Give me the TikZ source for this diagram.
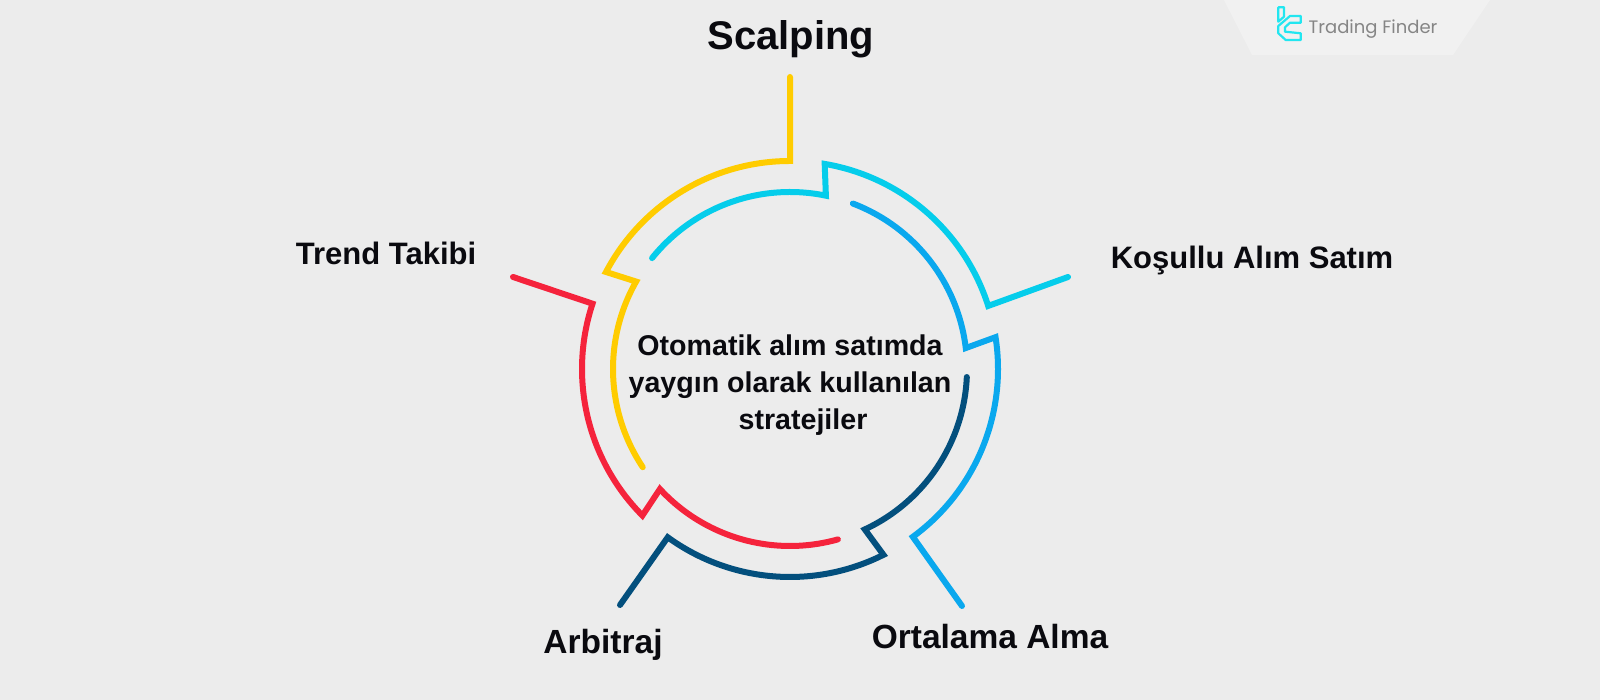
\documentclass[tikz,border=0pt]{standalone}
\usepackage{fontspec}
\setmainfont{Liberation Sans}
\newfontfamily\logofont{Poppins}
\definecolor{bgc}{HTML}{ECECEC}
\definecolor{patchc}{HTML}{F1F1F1}
\definecolor{cyellow}{HTML}{FFCC00}
\definecolor{ccyan}{HTML}{05CDEB}
\definecolor{cblue}{HTML}{0AA8EE}
\definecolor{cnavy}{HTML}{034F7D}
\definecolor{cred}{HTML}{F5233C}
\definecolor{clogo}{HTML}{22E6F0}
\definecolor{ctext}{HTML}{0A0A0F}
\definecolor{clogotext}{HTML}{858585}
\tikzset{
  x=1pt,y=1pt,
  ring/.style={line width=6pt,line cap=round,line join=miter,miter limit=6},
  lab/.style={font=\bfseries\fontsize{31}{31}\selectfont,text=ctext,inner sep=0pt,anchor=center},
  bigLab/.style={lab,font=\bfseries\fontsize{33.5}{33.5}\selectfont},
}
% #1 colour, #2 free end, #3 outer start angle, #4 outer end angle, #5 inner start angle, #6 inner end angle
\newcommand{\ringseg}[6]{%
  \draw[ring,#1] #2 -- ([shift={(#3:208)}]ctr) arc[start angle=#3,end angle=#4,radius=208]
    -- ([shift={(#5:177)}]ctr) arc[start angle=#5,end angle=#6,radius=177];}
\begin{document}
\begin{tikzpicture}
\useasboundingbox (0,0) rectangle (1600,700);
\fill[bgc] (0,0) rectangle (1600,700);
\fill[patchc] (1224,700) -- (1490,700) -- (1453,645) -- (1252,645) -- cycle;
\coordinate (ctr) at (790,331);
\coordinate (fy) at (790,623);
\coordinate (fc) at (1068,423);
\coordinate (fb) at (962,94);
\coordinate (fn) at (620,95);
\coordinate (fr) at (513,423);
\ringseg{cyellow}{(fy)}{90}{152.2}{150.4}{213.7}
\ringseg{cred}{(fr)}{161.7}{224.8}{222.7}{285.7}
\ringseg{cnavy}{(fn)}{234}{296.7}{295}{357.4}
\ringseg{cblue}{(fb)}{306.2}{368.8}{366.8}{429.2}
\ringseg{ccyan}{(fc)}{17.65}{80.4}{78.3}{141.2}
\node[lab,font=\bfseries\fontsize{40}{40}\selectfont] (t1) at (791,661) {Scalping};
\node[lab] (t2) at (1252,440) {Koşullu Alım Satım};
\node[lab] (t3) at (386,447) {Trend Takibi};
\node[bigLab] (t4) at (990,63) {Ortalama Alma};
\node[bigLab] (t5) at (603,55) {Arbitraj};
\node[lab,align=center,font=\bfseries\fontsize{28.6}{37}\selectfont] (t6) at (790,315) {Otomatik alım satımda\\yaygın olarak kullanılan\\\hspace*{26pt}stratejiler};
\draw[clogo,line width=2.2pt,line join=round] (1278.3,692.7) -- (1284,692.7) -- (1284,683.3) -- (1278.3,678.3) -- cycle;
\draw[clogo,line width=2.2pt,line join=round] (1300.7,684) -- (1300.7,677.3) -- (1290,677.3) -- (1285,672.7) -- (1285,668.3) -- (1300.7,666.7) -- (1300.7,660) -- (1285.7,660) -- (1278.3,666.7) -- (1278.3,674) -- (1290,684) -- cycle;
\node[inner sep=0pt,text=clogotext,font=\logofont\fontsize{18}{18}\selectfont] (lg) at (1373,670.5) {Trading Finder};
\end{tikzpicture}
\end{document}
